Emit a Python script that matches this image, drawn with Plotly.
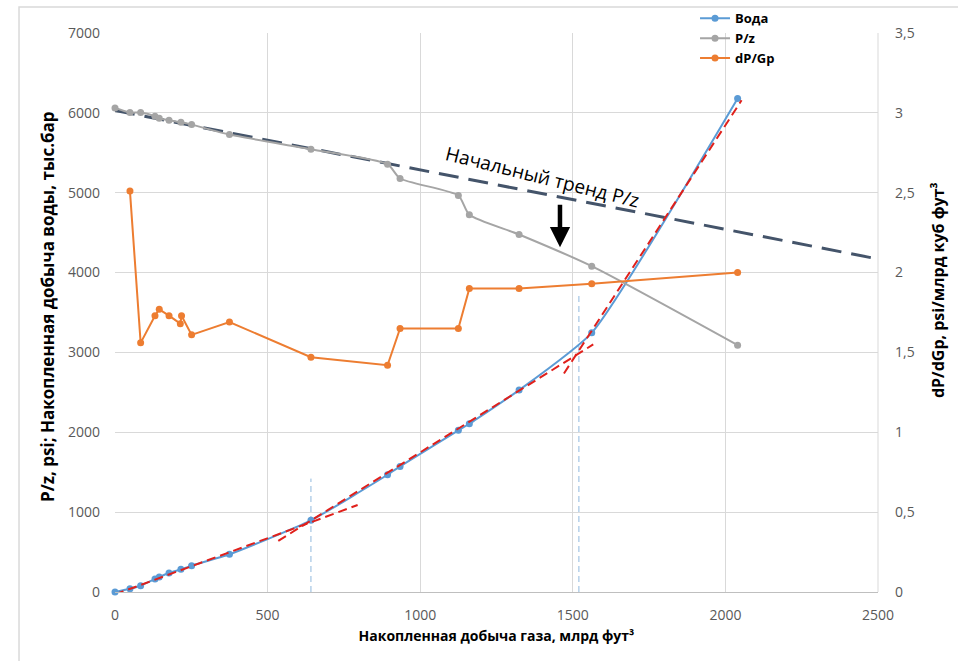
import plotly.graph_objects as go

# ---- data ----
gas_x = [0, 49, 84, 131, 145, 177, 216, 251, 375, 642, 893, 934, 1125, 1161, 1324, 1562, 2040]
water_y = [0, 41, 79, 163, 188, 238, 284, 330, 472, 897, 1468, 1573, 2024, 2107, 2528, 3245, 6180]
pz_y = [6061, 6004, 6004, 5957, 5932, 5907, 5882, 5853, 5728, 5544, 5357, 5178, 4965, 4723, 4477, 4080, 3091]

dp_x = [49, 84, 131, 145, 177, 214, 218, 251, 375, 642, 893, 934, 1125, 1161, 1324, 1562, 2040]
dp_y = [2.51, 1.56, 1.73, 1.77, 1.73, 1.68, 1.73, 1.61, 1.69, 1.47, 1.42, 1.65, 1.65, 1.90, 1.90, 1.93, 2.00]

trend_x = [0, 2500]
trend_y = [6030, 4170]

tan1_x = [0, 795]
tan1_y = [-30, 1089]
tan2_x = [535, 1567]
tan2_y = [640, 3100]
tan3_x = [1471, 2053]
tan3_y = [2737, 6157]

vline1_x = [642, 642]
vline1_y = [0, 1420]
vline2_x = [1520, 1520]
vline2_y = [0, 3720]

x_ticks = [0, 500, 1000, 1500, 2000, 2500]
y_ticks = [0, 1000, 2000, 3000, 4000, 5000, 6000, 7000]
y2_ticks = [0, 0.5, 1, 1.5, 2, 2.5, 3, 3.5]
y2_labels = ["0", "0,5", "1", "1,5", "2", "2,5", "3", "3,5"]

FONT = "Open Sans"
TICK_COLOR = "#595959"
GRID = "#D9D9D9"

fig = go.Figure()

# helper lines (not in legend)
fig.add_trace(go.Scatter(x=vline1_x, y=vline1_y, mode="lines", showlegend=False, hoverinfo="skip",
                         line=dict(color="#8FB8DE", width=1, dash="6px,4px")))
fig.add_trace(go.Scatter(x=vline2_x, y=vline2_y, mode="lines", showlegend=False, hoverinfo="skip",
                         line=dict(color="#8FB8DE", width=1, dash="6px,4px")))
fig.add_trace(go.Scatter(x=trend_x, y=trend_y, mode="lines", showlegend=False, hoverinfo="skip",
                         line=dict(color="#44546A", width=3, dash="20px,10px")))

# main series
fig.add_trace(go.Scatter(x=gas_x, y=water_y, name="Вода", mode="lines+markers", cliponaxis=False,
                         line=dict(color="#5B9BD5", width=2, shape="spline", smoothing=0.5),
                         marker=dict(size=7, color="#5B9BD5")))
fig.add_trace(go.Scatter(x=gas_x, y=pz_y, name="P/z", mode="lines+markers", cliponaxis=False,
                         line=dict(color="#A5A5A5", width=2, shape="spline", smoothing=0.6),
                         marker=dict(size=7, color="#A5A5A5")))
fig.add_trace(go.Scatter(x=dp_x, y=dp_y, name="dP/Gp", mode="lines+markers", cliponaxis=False,
                         yaxis="y2",
                         line=dict(color="#ED7D31", width=2),
                         marker=dict(size=7, color="#ED7D31")))

# red tangent lines
for tx, ty in [(tan1_x, tan1_y), (tan2_x, tan2_y), (tan3_x, tan3_y)]:
    fig.add_trace(go.Scatter(x=tx, y=ty, mode="lines", showlegend=False, hoverinfo="skip",
                             line=dict(color="#E0201B", width=2, dash="9px,5px")))

fig.update_layout(
    width=958, height=661,
    margin=dict(l=115, r=80, t=33, b=69, autoexpand=False),
    paper_bgcolor="white", plot_bgcolor="white",
    font=dict(family=FONT, color=TICK_COLOR, size=14),
    xaxis=dict(range=[0, 2500], tickvals=x_ticks, showgrid=True, gridcolor=GRID, gridwidth=1,
               zeroline=False, showline=True, linecolor="#BFBFBF", ticks="",
               tickfont=dict(size=14, color=TICK_COLOR, family=FONT), ticklabelstandoff=10,
               title=dict(text="Накопленная добыча газа, млрд фут³",
                          font=dict(size=14, color="#000000", family=FONT, weight="bold"), standoff=8)),
    yaxis=dict(range=[0, 7000], tickvals=y_ticks, showgrid=True, gridcolor=GRID, gridwidth=1,
               zeroline=False, showline=False, ticks="",
               tickfont=dict(size=14, color=TICK_COLOR, family=FONT), ticklabelstandoff=14),
    yaxis2=dict(range=[0, 3.5], tickvals=y2_ticks, ticktext=y2_labels, overlaying="y", side="right",
                showgrid=False, zeroline=False, showline=False, ticks="",
                tickfont=dict(size=14, color=TICK_COLOR, family=FONT), ticklabelstandoff=16),
    legend=dict(x=0.7255, y=0.995, xref="container", yref="container", xanchor="left", yanchor="top",
                bgcolor="rgba(0,0,0,0)",
                font=dict(size=13, color="#000000", family=FONT, weight="bold"),
                tracegroupgap=0, itemwidth=30),
    showlegend=True,
)

# vertical gridline on right edge
fig.add_shape(type="line", xref="paper", yref="paper", x0=1, x1=1, y0=0, y1=1,
              line=dict(color=GRID, width=1))
# outer chart frame
fig.add_shape(type="rect", xref="paper", yref="paper", x0=-0.1258, x1=1.12, y0=-0.14, y1=1.0465,
              line=dict(color="#D9D9D9", width=1.5), layer="below")

# axis titles placed as annotations
fig.add_annotation(x=-0.0878, y=0.51, xref="paper", yref="paper", xanchor="center", yanchor="middle",
                   text="<b>P/z, psi; Накопленная добыча воды, тыс.бар</b>",
                   showarrow=False, textangle=-90, font=dict(size=17, color="#000000", family=FONT))
fig.add_annotation(x=1.0786, y=0.54, xref="paper", yref="paper", xanchor="center", yanchor="middle",
                   text="<b>dP/dGp, psi/млрд куб фут³</b>",
                   showarrow=False, textangle=-90, font=dict(size=16, color="#000000", family=FONT))

fig.add_annotation(x=1402, y=5194, xref="x", yref="y", text="Начальный тренд P/z", showarrow=False,
                   textangle=14, font=dict(size=19, color="#000000", family=FONT))
fig.add_annotation(x=1458, y=4318, xref="x", yref="y", text="", showarrow=True,
                   arrowhead=2, arrowsize=0.9, arrowwidth=4.5, arrowcolor="#000000", ax=0, ay=-44)

fig.write_html("out.html")
